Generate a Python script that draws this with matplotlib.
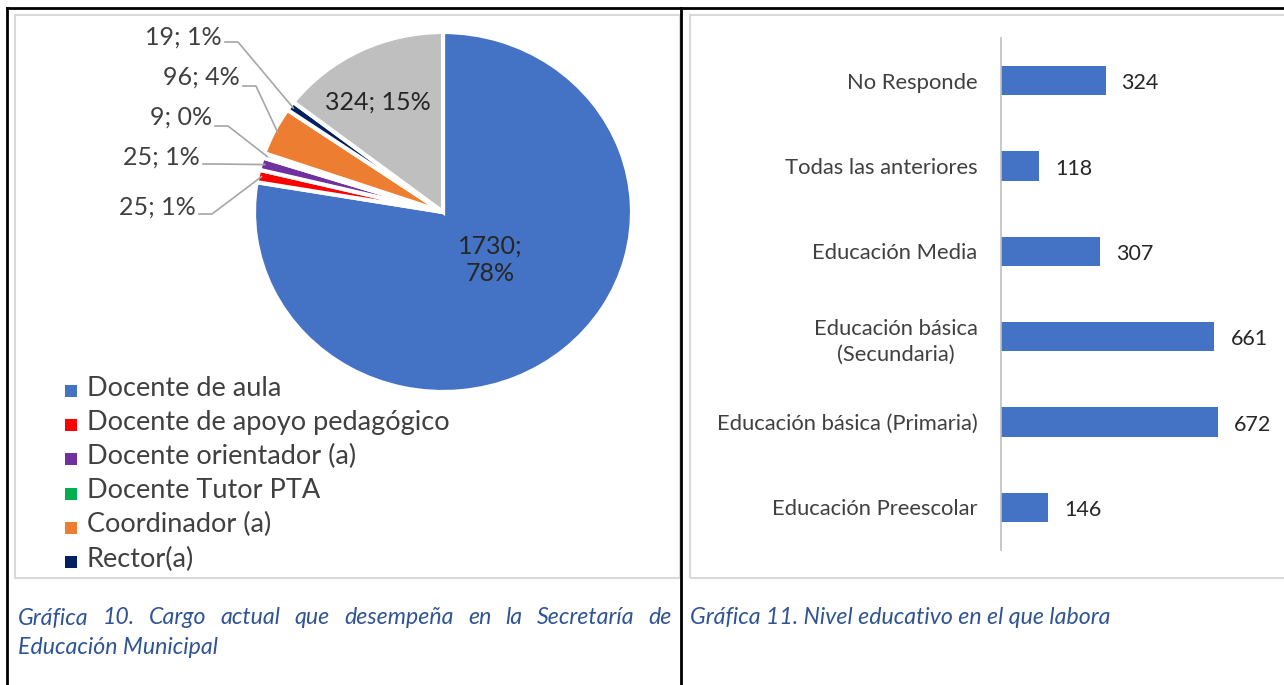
import matplotlib
matplotlib.use("Agg")
import matplotlib.pyplot as plt
from matplotlib.lines import Line2D
from matplotlib.patches import Rectangle
import numpy as np

# ---------------- data ----------------
cargo_labels = ["Docente de aula", "Docente de apoyo pedagógico", "Docente orientador (a)",
                "Docente Tutor PTA", "Coordinador (a)", "Rector(a)", "No responde"]
cargo_values = [1730, 25, 25, 9, 96, 19, 324]
cargo_colors = ["#4472C4", "#FF0000", "#7030A0", "#00B050", "#ED7D31", "#002060", "#BFBFBF"]
legend_count = 6  # legend shows the first six categories

nivel_labels = ["Educación Preescolar", "Educación básica (Primaria)",
                "Educación básica\n(Secundaria)", "Educación Media",
                "Todas las anteriores", "No Responde"]
nivel_values = [146, 672, 661, 307, 118, 324]

caption_left = "Gráfica 10. Cargo actual que desempeña en la Secretaría de Educación Municipal"
caption_right = "Gráfica 11. Nivel educativo en el que labora"

# ---------------- layout helpers ----------------
W, H = 1284, 685
FONT = "Lato"
TXT = "#404040"
CAP = "#2F5496"
CAP_SIZE = 16.7
fig = plt.figure(figsize=(W / 100, H / 100), dpi=100)
fig.patch.set_facecolor("white")


def fx(x):
    return x / W


def fy(y):
    return 1 - y / H


def fline(xs, ys, **kw):
    fig.add_artist(Line2D([fx(x) for x in xs], [fy(y) for y in ys],
                          transform=fig.transFigure, **kw))


# table borders (black)
fline([7, 1284], [8, 8], color="black", lw=2)
fline([7, 7], [8, 685], color="black", lw=2)
fline([681, 681], [8, 685], color="black", lw=2)

# chart area borders (light gray)
fig.add_artist(Rectangle((fx(15), fy(578)), fx(680 - 15), (578 - 15) / H,
                         transform=fig.transFigure, fill=False, ec="#D9D9D9", lw=1.5))
fig.add_artist(Rectangle((fx(690), fy(578)), fx(1290 - 690), (578 - 15) / H,
                         transform=fig.transFigure, fill=False, ec="#D9D9D9", lw=1.5))

# ---------------- pie ----------------
cx, cy, rx, ry = 443, 212, 189, 180
axp = fig.add_axes([fx(cx - rx), fy(cy + ry), 2 * rx / W, 2 * ry / H])
wedges, _ = axp.pie(cargo_values, colors=cargo_colors, startangle=90, counterclock=False,
                    radius=1, wedgeprops=dict(edgecolor="white", linewidth=3))
axp.set_xlim(-1, 1)
axp.set_ylim(-1, 1)
axp.set_aspect("auto")
axp.axis("off")

total = sum(cargo_values)
pct = [round(100 * v / total) for v in cargo_values]
labels = [f"{v}; {p}%" for v, p in zip(cargo_values, pct)]

# inside labels
fig.text(fx(490), fy(260), f"{cargo_values[0]};\n{pct[0]}%", ha="center", va="center",
         fontsize=18, family=FONT, color="#262626", linespacing=1.25)
fig.text(fx(378), fy(102), labels[6], ha="center", va="center",
         fontsize=18, family=FONT, color="#262626")

# outside labels with leader lines: (index, text right x, text y, stub y)
outside = [(5, 222, 37, 42), (4, 240, 77, 86), (3, 212, 117, 126), (2, 200, 157, 164), (1, 196, 207, 214)]
inv = fig.transFigure.inverted()
for idx, tx, ty, sy in outside:
    w = wedges[idx]
    mid = np.deg2rad((w.theta1 + w.theta2) / 2)
    px, py = axp.transData.transform((0.98 * np.cos(mid), 0.98 * np.sin(mid)))
    ax_f, ay_f = inv.transform((px, py))
    fig.text(fx(tx), fy(ty), labels[idx], ha="right", va="center", fontsize=18,
             family=FONT, color=TXT)
    fig.add_artist(Line2D([fx(tx + 3), fx(tx + 16), ax_f], [fy(sy), fy(sy), ay_f],
                          transform=fig.transFigure, color="#A6A6A6", lw=1.2))

# legend
for i in range(legend_count):
    y = 388 + i * 34.2
    fig.add_artist(Rectangle((fx(65), fy(y + 9)), 12 / W, 12 / H, transform=fig.transFigure,
                             fc=cargo_colors[i], ec="none"))
    fig.text(fx(87), fy(y), cargo_labels[i], ha="left", va="center", fontsize=19.5,
             family=FONT, color=TXT)

# ---------------- bar chart ----------------
x0, x1, ytop, ybot = 1001, 1270, 38, 550
scale = 217 / 672  # pixels per unit
axb = fig.add_axes([fx(x0), fy(ybot), (x1 - x0) / W, (ybot - ytop) / H])
ypos = np.arange(len(nivel_values))
axb.barh(ypos, nivel_values, height=0.34, color="#4472C4")
axb.set_xlim(0, (x1 - x0) / scale)
axb.set_ylim(-0.5, len(nivel_values) - 0.5)
for s in ["top", "right", "bottom"]:
    axb.spines[s].set_visible(False)
axb.spines["left"].set_color("#BFBFBF")
axb.spines["left"].set_linewidth(1.2)
axb.set_xticks([])
axb.set_yticks(ypos)
axb.set_yticklabels(nivel_labels, fontsize=15.8, family=FONT, color=TXT)
axb.tick_params(axis="y", length=0, pad=17)
for lab in axb.get_yticklabels():
    lab.set_multialignment("center")
    lab.set_linespacing(1.4)
for yv, v in zip(ypos, nivel_values):
    axb.annotate(str(v), (v, yv), xytext=(11.5, -2), textcoords="offset points",
                 ha="left", va="center", fontsize=15.5, family=FONT, color="#262626")
axb.patch.set_alpha(0)

# ---------------- captions ----------------
renderer = fig.canvas.get_renderer()


def justified(words, xl, xr, y):
    arts = [fig.text(0, fy(y), w, ha="left", va="center", fontsize=CAP_SIZE, family=FONT,
                     style="italic", color=CAP) for w in words]
    widths = [a.get_window_extent(renderer).width for a in arts]
    gap = (xr - xl - sum(widths)) / (len(words) - 1)
    x = xl
    for a, wd in zip(arts, widths):
        a.set_x(fx(x))
        x += wd + gap


words = caption_left.split(" ")
justified(words[:10], 18, 672, 618)
fig.text(fx(18), fy(647), " ".join(words[10:]), ha="left", va="center", fontsize=CAP_SIZE,
         family=FONT, style="italic", color=CAP)
fig.text(fx(690), fy(618), caption_right, ha="left", va="center", fontsize=CAP_SIZE,
         family=FONT, style="italic", color=CAP)

fig.savefig("out.png", dpi=100)
